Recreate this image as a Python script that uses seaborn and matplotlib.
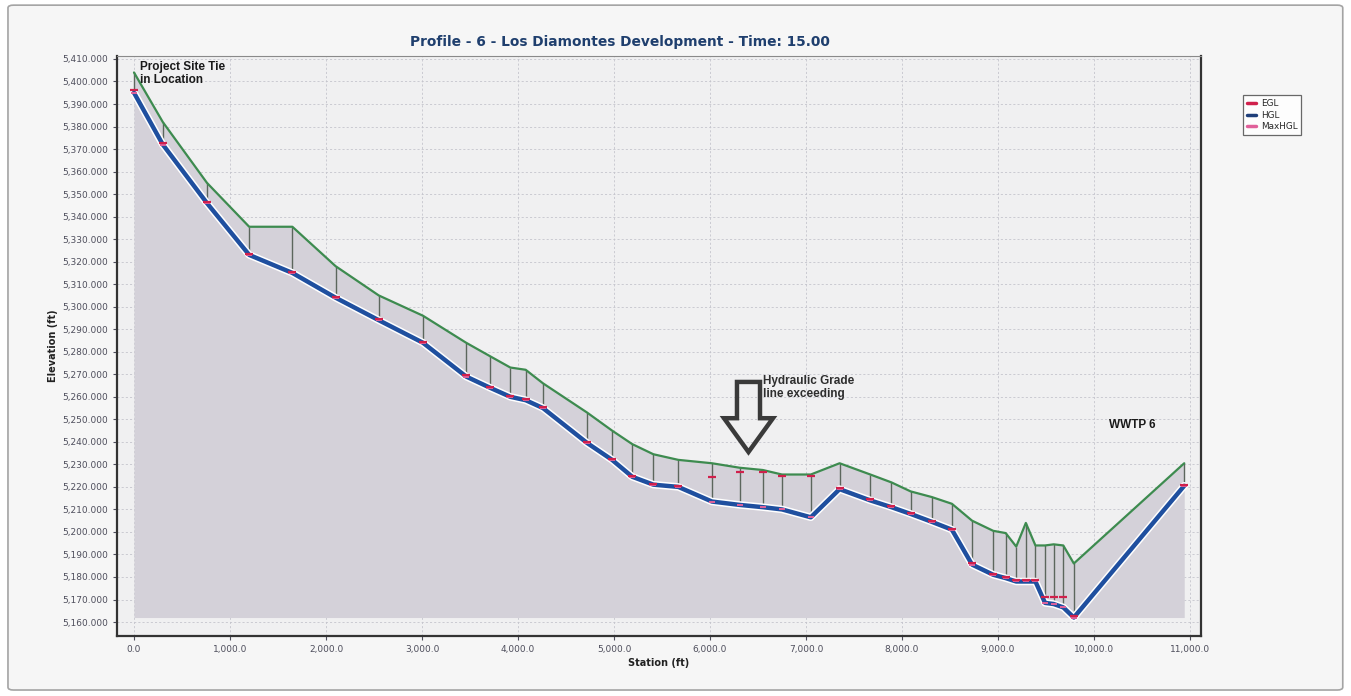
import matplotlib
matplotlib.use("Agg")
import matplotlib.pyplot as plt
import matplotlib.patheffects as pe
import pandas as pd
import seaborn as sns
from matplotlib.lines import Line2D
from matplotlib.patches import FancyArrow, FancyBboxPatch
from matplotlib.ticker import FuncFormatter

# Manhole stations along the profile (ft)
station = [0, 300, 760, 1200, 1650, 2100, 2550, 3010, 3460, 3710,
           3920, 4080, 4260, 4720, 4980, 5190, 5410, 5670, 6020, 6310,
           6550, 6750, 7050, 7350, 7670, 7890, 8090, 8310, 8520, 8730,
           8950, 9080, 9190, 9290, 9390, 9490, 9580, 9680, 9790, 10940]

# Ground / rim elevation at each station (ft)
ground = [5404.0, 5382.0, 5355.0, 5335.5, 5335.5, 5318.0, 5305.0, 5296.0, 5284.0, 5278.0,
          5273.0, 5272.0, 5266.0, 5253.0, 5245.0, 5239.0, 5234.5, 5232.0, 5230.5, 5228.5,
          5227.5, 5225.5, 5225.5, 5230.5, 5225.5, 5222.0, 5218.0, 5215.5, 5212.5, 5205.0,
          5200.5, 5199.5, 5193.5, 5204.0, 5194.0, 5194.0, 5194.5, 5194.0, 5186.0, 5230.5]

# Hydraulic grade line (ft)
hgl = [5395.0, 5372.0, 5346.0, 5323.0, 5315.0, 5304.0, 5294.0, 5284.0, 5269.0, 5264.0,
       5260.0, 5258.5, 5255.0, 5239.5, 5232.0, 5224.5, 5221.0, 5220.0, 5213.5, 5212.0,
       5211.0, 5210.0, 5206.5, 5219.0, 5214.0, 5211.0, 5208.0, 5204.5, 5201.0, 5185.5,
       5181.0, 5179.5, 5178.0, 5178.0, 5178.0, 5168.5, 5168.0, 5166.5, 5162.0, 5220.5]

# Energy grade line (ft)
egl = [5396.0, 5372.5, 5346.5, 5323.5, 5315.5, 5304.5, 5294.5, 5284.5, 5269.5, 5264.5,
       5260.5, 5259.0, 5255.5, 5240.0, 5232.5, 5225.0, 5221.5, 5220.5, 5224.5, 5226.5,
       5226.5, 5225.0, 5225.0, 5219.5, 5214.5, 5211.5, 5208.5, 5205.0, 5201.5, 5186.0,
       5181.5, 5180.0, 5178.5, 5178.5, 5178.5, 5171.0, 5171.0, 5171.0, 5162.5, 5221.0]

x_ticks = [0, 1000, 2000, 3000, 4000, 5000, 6000, 7000, 8000, 9000, 10000, 11000]
y_ticks = list(range(5160, 5411, 10))

title = "Profile - 6 - Los Diamontes Development - Time: 15.00"

sns.set_theme(style="white")
plt.rcParams["font.family"] = ["DejaVu Sans"]

df = pd.DataFrame({"station": station, "ground": ground, "hgl": hgl, "egl": egl})

fig = plt.figure(figsize=(13.51, 6.96), dpi=100, facecolor="white")
fig.patches.append(FancyBboxPatch((0.0059, 0.0086), 0.988, 0.984,
                                  boxstyle="round,pad=0,rounding_size=0.004",
                                  transform=fig.transFigure, fc="#f6f6f6",
                                  ec="#a4a4a4", lw=1.2, zorder=-10))
ax = fig.add_axes([0.0866, 0.0862, 0.8024, 0.8333])
ax.set_facecolor("#f0f0f1")

# Soil profile below the ground line
base = min(hgl)
ax.fill_between(df["station"], df["ground"], base, color="#d4d1d9", lw=0, zorder=1)

# Manhole structures
ax.vlines(df["station"], df["hgl"], df["ground"], color="#5c665d", lw=1.0, zorder=3)

sns.lineplot(data=df, x="station", y="ground", color="#3d8b4f", lw=1.6,
             sort=False, ax=ax, zorder=4, legend=False)
sns.lineplot(data=df, x="station", y="hgl", color="#1f4f9f", lw=3.2,
             sort=False, ax=ax, zorder=5, legend=False,
             path_effects=[pe.Stroke(linewidth=5.4, foreground="white"), pe.Normal()])

ax.plot(df["station"], df["hgl"], ls="none", marker="_", ms=4, mew=1.4,
        color="#e0609a", zorder=6)
ax.plot(df["station"], df["egl"], ls="none", marker="_", ms=6, mew=1.6,
        color="#d0204c", zorder=7)

# Annotations
ax.text(60, 5409.0, "Project Site Tie\nin Location", ha="left", va="top",
        fontsize=8.5, fontweight="bold", color="#1a1a1a", linespacing=1.05,
        family="Liberation Sans", zorder=8)
ax.text(6550, 5269.5, "Hydraulic Grade\nline exceeding", ha="left", va="top",
        fontsize=8.5, fontweight="bold", color="#2e2e2e", linespacing=1.05,
        family="Liberation Sans", zorder=8)
ax.text(10160, 5247.5, "WWTP 6", ha="left", va="center",
        fontsize=8.5, fontweight="bold", color="#1a1a1a",
        family="Liberation Sans", zorder=8)
ax.add_patch(FancyArrow(6401, 5266.6, 0, -31.1, width=240, head_width=510,
                        head_length=15, length_includes_head=True,
                        fc="none", ec="#3a3a3a", lw=3.2, zorder=8))

ax.set_xlim(-177, 11115)
ax.set_ylim(5153.8, 5411.3)
ax.set_xticks(x_ticks)
ax.set_yticks(y_ticks)
ax.xaxis.set_major_formatter(FuncFormatter(lambda v, p: f"{v:,.1f}"))
ax.yaxis.set_major_formatter(FuncFormatter(lambda v, p: f"{v:,.3f}"))
ax.tick_params(axis="both", labelsize=6.5, labelcolor="#4e4e5c", colors="#4e4e5c",
               length=3, width=0.8, direction="out", left=True, bottom=True)
ax.grid(True, color="#c4c4cc", lw=0.6, ls=(0, (2.5, 2.5)))
for s in ax.spines.values():
    s.set_color("#333333")
    s.set_linewidth(1.6)
ax.spines["top"].set_color("#8a8a8a")
ax.spines["top"].set_linewidth(0.8)

ax.set_xlabel("Station (ft)", fontsize=7, fontweight="bold", color="#222222", labelpad=3)
ax.set_ylabel("Elevation (ft)", fontsize=7, fontweight="bold", color="#222222", labelpad=3)
fig.text(620 / 1351, 1 - 42 / 696, title, ha="center", va="center",
         fontsize=9.9, fontweight="bold", color="#1f3f6e")

handles = [Line2D([], [], color="#d0204c", lw=2.5),
           Line2D([], [], color="#1f3f7a", lw=2.5),
           Line2D([], [], color="#e0609a", lw=2.5)]
leg = fig.legend(handles, ["EGL", "HGL", "MaxHGL"], loc="upper left",
                 bbox_to_anchor=(1239 / 1351, 1 - 91 / 696), fontsize=6.4,
                 handlelength=1.0, handletextpad=0.5, borderpad=0.45,
                 labelspacing=0.25, fancybox=False, frameon=True)
leg.get_frame().set_edgecolor("#444444")
leg.get_frame().set_linewidth(0.9)
leg.get_frame().set_facecolor("white")

fig.savefig("out.png", dpi=100, facecolor=fig.get_facecolor())
